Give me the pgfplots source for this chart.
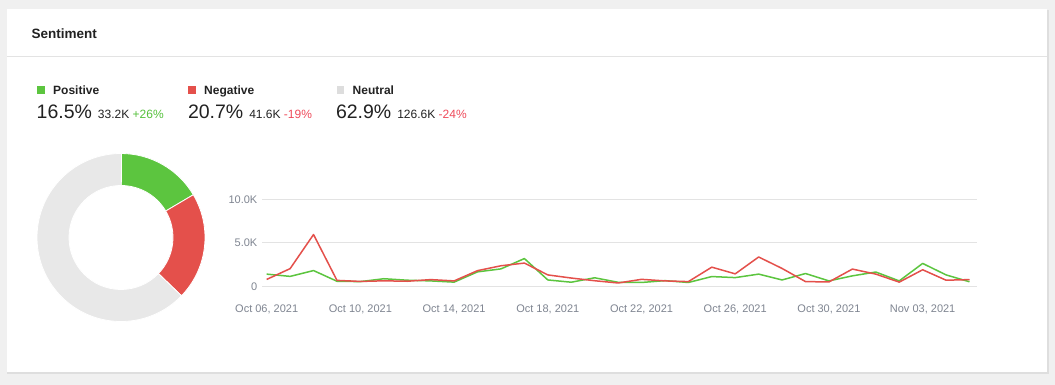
\documentclass[border=0pt]{standalone}
\usepackage{fontspec}
\setmainfont{Liberation Sans}
\usepackage{pgfplots}
\usepackage{pgfplotstable}
\pgfplotsset{compat=1.18}
\definecolor{bg}{HTML}{F0F0F0}
\definecolor{shadow}{HTML}{DEDEDE}
\definecolor{posgreen}{HTML}{5CC53F}
\definecolor{neg}{HTML}{E4504B}
\definecolor{neu}{HTML}{E8E8E8}
\definecolor{neusq}{HTML}{DDDDDD}
\definecolor{txt}{HTML}{222222}
\definecolor{ticktxt}{HTML}{7F8591}
\definecolor{gridc}{HTML}{E3E3E3}
\definecolor{posText}{HTML}{55C13C}
\definecolor{negText}{HTML}{EF4B5B}

\pgfplotstableread{
day pos neg
0 1400 790
1 1140 2030
2 1810 5950
3 580 680
4 540 560
5 870 630
6 700 580
7 620 770
8 480 620
9 1660 1800
10 2000 2360
11 3190 2670
12 730 1310
13 470 950
14 980 640
15 460 380
16 440 800
17 650 620
18 440 540
19 1120 2200
20 1000 1430
21 1400 3370
22 730 2050
23 1470 540
24 620 500
25 1200 1980
26 1640 1400
27 620 480
28 2630 1900
29 1310 700
30 520 770
}\sentdata

\begin{document}
\begin{tikzpicture}[x=1pt,y=1pt]
\useasboundingbox (0,0) rectangle (1055,-385);
\fill[bg] (0,0) rectangle (1055,-385);
\fill[shadow] (7,-10) rectangle (1048.5,-373.5);
\fill[white] (7,-9) rectangle (1047,-372);
\draw[gridc, line width=1pt] (7,-56.5) -- (1047,-56.5);

\node[anchor=base west, inner sep=0pt, text=txt] at (31.5,-38.1)
  {\fontsize{13.5}{16}\selectfont\bfseries Sentiment};

% legend
\fill[posgreen] (37.3,-86) rectangle (45,-93.7);
\node[anchor=base west, inner sep=0pt, text=txt] at (53,-94.3)
  {\fontsize{12}{14}\selectfont\bfseries Positive};
\node[anchor=base west, inner sep=0pt, text=txt] at (36.5,-119)
  {\fontsize{19.5}{23}\selectfont 16.5\%\hspace{6pt}\fontsize{12}{14}\selectfont 33.2K \textcolor{posText}{+26\%}};

\fill[neg] (188.3,-86) rectangle (196,-93.7);
\node[anchor=base west, inner sep=0pt, text=txt] at (204,-94.3)
  {\fontsize{12}{14}\selectfont\bfseries Negative};
\node[anchor=base west, inner sep=0pt, text=txt] at (187.8,-119)
  {\fontsize{19.5}{23}\selectfont 20.7\%\hspace{6pt}\fontsize{12}{14}\selectfont 41.6K \textcolor{negText}{-19\%}};

\fill[neusq] (336.7,-86) rectangle (344.4,-93.7);
\node[anchor=base west, inner sep=0pt, text=txt] at (352.5,-94.3)
  {\fontsize{12}{14}\selectfont\bfseries Neutral};
\node[anchor=base west, inner sep=0pt, text=txt] at (335.8,-119)
  {\fontsize{19.5}{23}\selectfont 62.9\%\hspace{6pt}\fontsize{12}{14}\selectfont 126.6K \textcolor{negText}{-24\%}};

% donut
\begin{scope}[shift={(121,-237.5)}]
\gdef\startang{90}
\foreach \v/\c in {16.5/posgreen,20.7/neg,62.9/neu}{
  \pgfmathsetmacro\endang{\startang-3.6*\v}
  \fill[\c, draw=white, line width=0.8pt] (\startang:84pt) arc[start angle=\startang, end angle=\endang, radius=84pt]
     -- (\endang:52pt) arc[start angle=\endang, end angle=\startang, radius=52pt] -- cycle;
  \xdef\startang{\endang}
}
\end{scope}

\begin{axis}[
  at={(262pt,-286.3pt)}, anchor=south west,
  scale only axis, width=715pt, height=87pt,
  xmin=-0.2, xmax=30.32, ymin=0, ymax=10000,
  axis line style={draw=none},
  tick style={draw=none},
  ymajorgrids, grid style={gridc, line width=1pt},
  ytick={0,5000,10000}, yticklabels={0,5.0K,10.0K},
  scaled y ticks=false,
  xtick={0,4,8,12,16,20,24,28},
  xticklabels={{Oct 06, 2021},{Oct 10, 2021},{Oct 14, 2021},{Oct 18, 2021},{Oct 22, 2021},{Oct 26, 2021},{Oct 30, 2021},{Nov 03, 2021}},
  yticklabel style={anchor=east, inner sep=0pt, xshift=-4.5pt, font=\fontsize{11}{13}\selectfont, text=ticktxt},
  xticklabel style={anchor=base, inner sep=0pt, yshift=-25.7pt, font=\fontsize{11}{13}\selectfont, text=ticktxt},
  /pgf/number format/assume math mode=true,
]
\addplot[posgreen, line width=1.5pt, line join=round] table[x=day, y=pos] {\sentdata};
\addplot[neg, line width=1.5pt, line join=round] table[x=day, y=neg] {\sentdata};
\end{axis}
\end{tikzpicture}
\end{document}
